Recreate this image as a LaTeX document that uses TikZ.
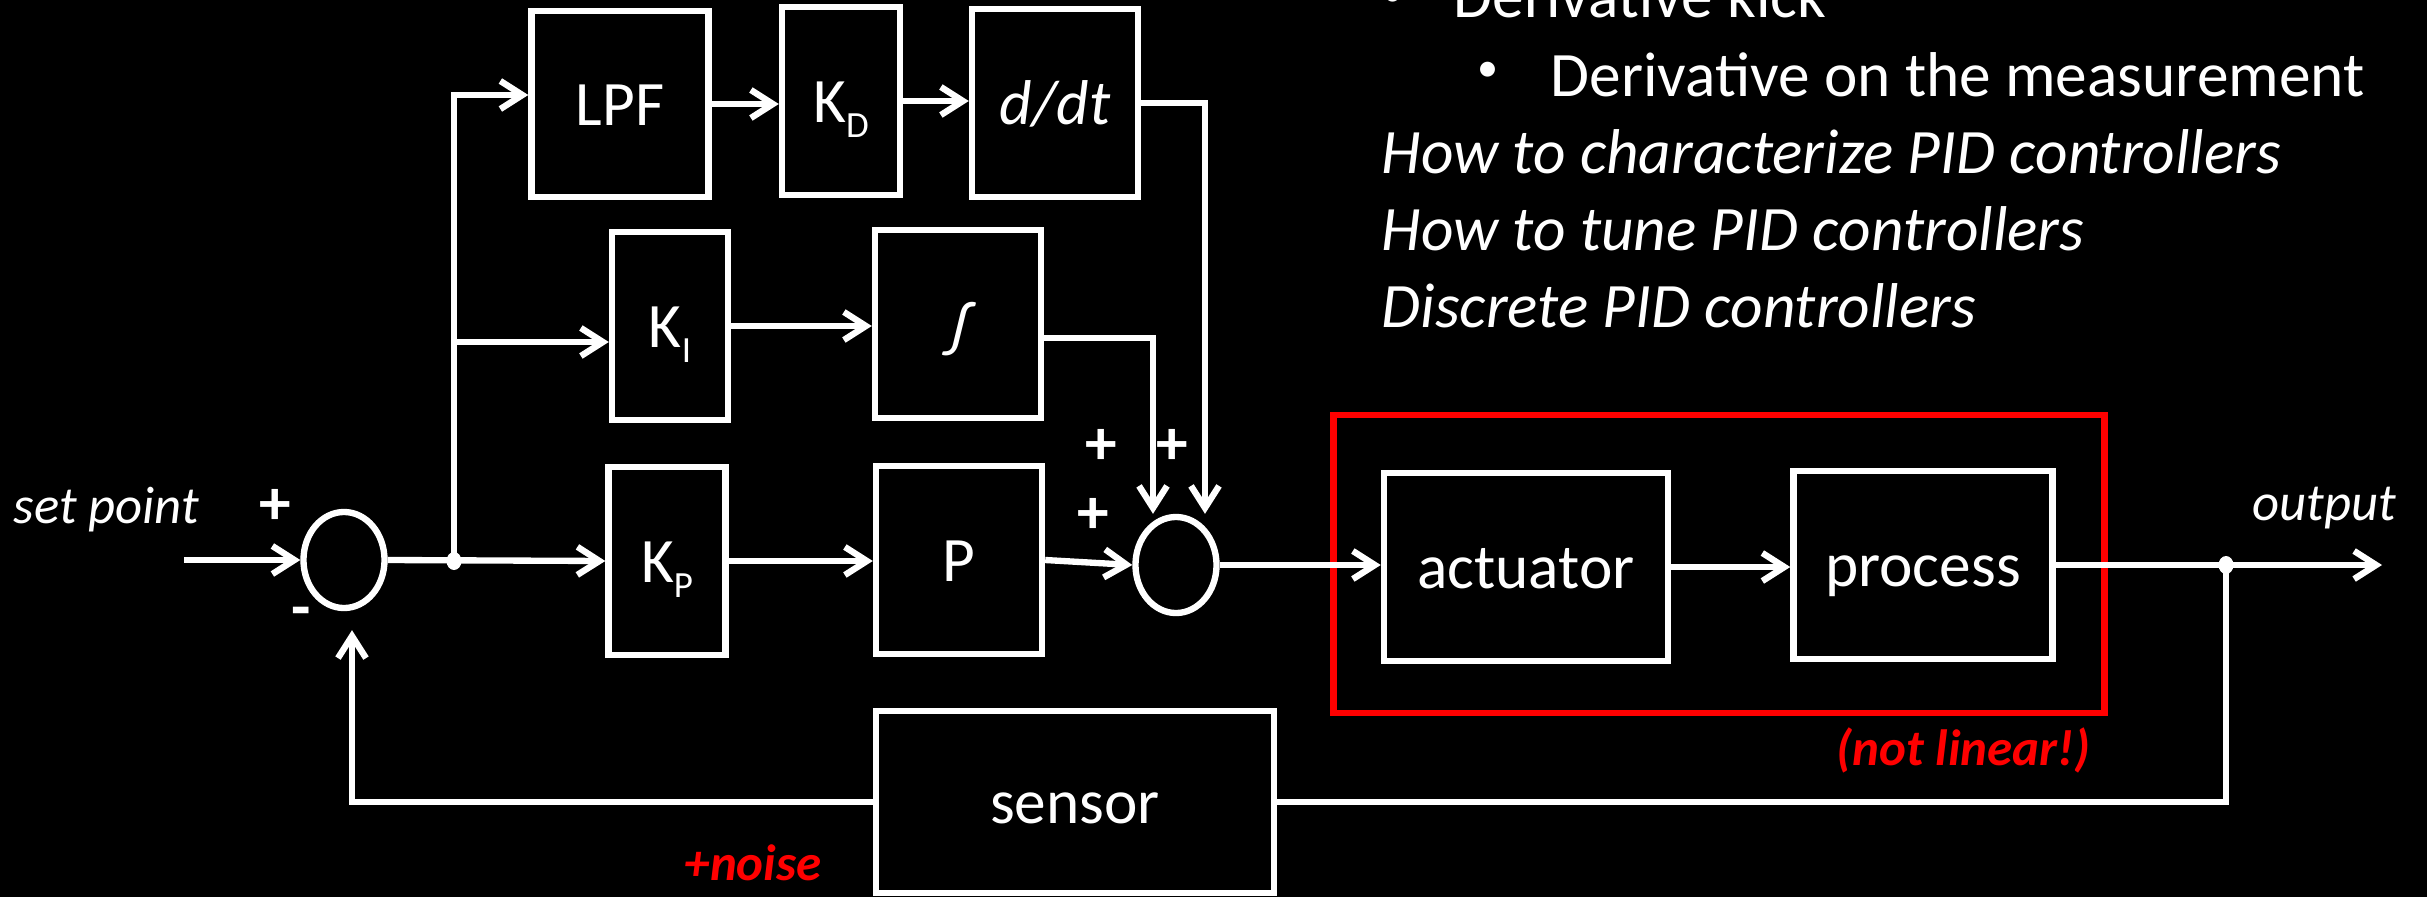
\documentclass[tikz,border=0pt]{standalone}
\usepackage{fontspec}
\setmainfont{Carlito}
\usepackage{tikz}
\usetikzlibrary{positioning, arrows.meta, shapes.geometric, calc}
\definecolor{SlideRed}{RGB}{255,0,0}
\newcommand{\lowsub}[1]{\raisebox{-0.15cm}{\fontsize{10.5}{12}\selectfont #1}}

\begin{document}
\begin{tikzpicture}[
    x=0.01cm, y=-0.01cm,
    font=\fontsize{18}{22}\selectfont,
    >={Straight Barb[length=2.2mm, width=2.8mm]},
    block/.style={
        draw=white,
        line width=1.8pt,
        fill=black,
        text=white,
        inner sep=0pt,
        text height=0.52cm,
        text depth=0.10cm,
        minimum width=1.17cm,
        minimum height=1.88cm
    },
    wideblock/.style={
        block,
        minimum width=1.66cm
    },
    summer/.style={
        draw=white,
        line width=1.8pt,
        ellipse,
        inner sep=0pt,
        minimum width=0.81cm,
        minimum height=0.96cm
    },
    junction/.style={
        ellipse,
        fill=white,
        inner sep=0pt,
        minimum width=0.15cm,
        minimum height=0.18cm
    },
    arrow/.style={
        ->,
        line width=1.8pt,
        white
    },
    wire/.style={
        line width=1.8pt,
        white
    },
    sign/.style={
        text=white,
        font=\fontsize{18}{22}\selectfont\bfseries,
        inner sep=0pt
    },
    bulletmark/.style={
        text=white,
        font=\fontsize{12}{14}\selectfont,
        inner sep=0pt
    },
    note/.style={
        text=white,
        inner sep=0pt,
        anchor=base west
    },
    topic/.style={
        note,
        font=\fontsize{18}{22}\selectfont\itshape
    },
    signal/.style={
        note,
        font=\fontsize{15}{18}\selectfont\itshape
    },
    warn/.style={
        text=SlideRed,
        font=\fontsize{14.5}{17}\selectfont\bfseries\itshape,
        inner sep=0pt,
        anchor=base west
    }
]

% Slide area (black)
\clip (0,0) rectangle (2427,897);
\fill[black] (0,0) rectangle (2427,897);

% Summing junctions
\node[summer] (sum1) at (344,560) {};
\node[summer] (sum2) at (1176,565) {};

% Derivative branch on top
\node[block, minimum width=1.77cm, minimum height=1.86cm] (lpf) at (620,104) {LPF};
\node[block, minimum width=1.18cm] (kd) at (841,101) {K\lowsub{D}};
\node[wideblock] (ddt) at (1055,103) {\itshape d/dt};

% Integral branch
\node[block, minimum width=1.16cm] (ki) at (670,326) {K\lowsub{I}};
\node[wideblock] (integ) at (958,324) {\itshape ∫};

% Proportional branch
\node[block] (kp) at (667,561) {K\lowsub{P}};
\node[wideblock] (prop) at (959,560) {P};

% Plant inside the red frame
\node[draw=SlideRed, line width=1.9pt, inner sep=0pt, minimum width=7.70cm, minimum height=2.98cm] (plantframe) at (1719,564) {};
\node[block, minimum width=2.84cm] (act) at (1526,567) {actuator};
\node[block, minimum width=2.59cm] (proc) at (1923,565) {process};

% Sensor in the feedback path
\node[block, minimum width=3.98cm, minimum height=1.82cm] (sens) at (1075,802) {sensor};

% Branch points and free ends
\node[junction] (split) at (454,561) {};
\node[junction] (tap) at (2226,565) {};
\coordinate (in) at (184,560);
\coordinate (out) at (2382,565);

% Forward path
\draw[arrow] (in) -- (sum1.west);
\draw[arrow] (sum1.east) -- (kp.west);
\draw[arrow] (split.center) |- ($(lpf.west)+(0,-9)$);
\draw[arrow] (split.center) |- ($(ki.west)+(0,16)$);
\draw[arrow] (lpf.east) -- (lpf.east -| kd.west);
\draw[arrow] (kd.east) -- (kd.east -| ddt.west);
\draw[arrow] (ki.east) -- (ki.east -| integ.west);
\draw[arrow] (kp.east) -- (kp.east -| prop.west);
\draw[arrow] (ddt.east) -| ($(sum2.north)+(29,0)$);
\draw[arrow] ($(integ.east)+(0,14)$) -| ($(sum2.north)+(-23,0)$);
\draw[arrow] (prop.east) -- (sum2.west);
\draw[arrow] (sum2.east) -- (sum2.east -| act.west);
\draw[arrow] (act.east) -- (act.east -| proc.west);
\draw[arrow] (proc.east) -- (out);

% Feedback path
\draw[wire] (tap.center) |- (sens.east);
\draw[arrow] (sens.west) -| ($(sum1.south)+(8,19)$);

% Signs at the junctions
\node[sign] (plus1) at (275,507) {+};
\node[sign] (minus1) at (301,618) {-};
\node[sign] (plus2) at (1101,447) {+};
\node[sign] (plus3) at (1172,447) {+};
\node[sign] (plus4) at (1093,516) {+};

% Signal labels
\node[signal] (setpoint) at (13,523) {set point};
\node[signal] (outlabel) at (2252,520) {output};
\node[warn] (noise) at (684,880) {+noise};
\node[warn] (nonlin) at (1836,765) {(not linear!)};

% Slide text, top right
\node[bulletmark] (bul1) at (1393,-3) {•};
\node[note] (item1) at (1453,18) {Derivative kick};
\node[bulletmark] (bul2) at (1488,72) {•};
\node[note] (item2) at (1550,97) {Derivative on the measurement};
\node[topic] (line1) at (1381,173) {How to characterize PID controllers};
\node[topic] (line2) at (1381,250) {How to tune PID controllers};
\node[topic] (line3) at (1381,327) {Discrete PID controllers};

\end{tikzpicture}
\end{document}
